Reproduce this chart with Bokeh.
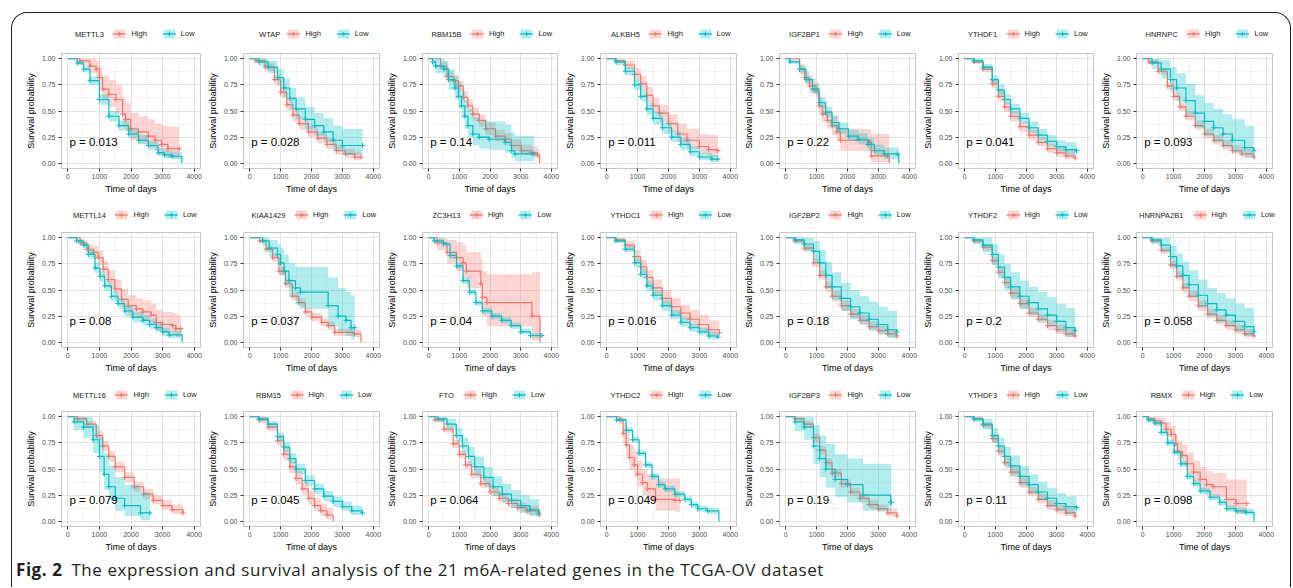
from bokeh.plotting import figure
from bokeh.layouts import row, column
from bokeh.models import (Legend, LegendItem, Div, Range1d, FixedTicker, Label,
                          PrintfTickFormatter)
from bokeh.embed import file_html
from bokeh.resources import INLINE

HIGH_COLOR = "#F8766D"
LOW_COLOR = "#00BFC4"
FONT = "Liberation Sans"

X_TICKS = [0, 1000, 2000, 3000, 4000]
X_MINOR = [500, 1500, 2500, 3500]
Y_TICKS = [0.0, 0.25, 0.5, 0.75, 1.0]
Y_MINOR = [0.125, 0.375, 0.625, 0.875]

GENES = ["METTL3", "WTAP", "RBM15B", "ALKBH5", "IGF2BP1", "YTHDF1", "HNRNPC",
         "METTL14", "KIAA1429", "ZC3H13", "YTHDC1", "IGF2BP2", "YTHDF2", "HNRNPA2B1",
         "METTL16", "RBM15", "FTO", "YTHDC2", "IGF2BP3", "YTHDF3", "RBMX"]
P_VALUES = ["0.013", "0.028", "0.14", "0.011", "0.22", "0.041", "0.093",
            "0.08", "0.037", "0.04", "0.016", "0.18", "0.2", "0.058",
            "0.079", "0.045", "0.064", "0.049", "0.19", "0.11", "0.098"]

# Kaplan-Meier estimates: (days, survival, lower CI, upper CI)
METTL3_HIGH = [(0, 1, 1, 1), (380, 0.98, 0.94, 1.0), (700, 0.93, 0.86, 1.0), (900, 0.90, 0.82, 0.98),
               (1000, 0.82, 0.72, 0.93), (1100, 0.71, 0.60, 0.84), (1300, 0.66, 0.54, 0.80),
               (1520, 0.61, 0.48, 0.75), (1730, 0.47, 0.35, 0.63), (1830, 0.42, 0.30, 0.58),
               (1990, 0.33, 0.22, 0.48), (2240, 0.30, 0.19, 0.45), (2550, 0.26, 0.15, 0.42),
               (2760, 0.22, 0.12, 0.38), (2970, 0.18, 0.09, 0.36), (3170, 0.14, 0.05, 0.35),
               (3530, 0.14, 0.05, 0.35)]
METTL3_LOW = [(0, 1, 1, 1), (300, 0.96, 0.94, 0.98), (500, 0.90, 0.87, 0.93), (700, 0.79, 0.75, 0.83),
              (1000, 0.61, 0.56, 0.66), (1300, 0.45, 0.40, 0.50), (1620, 0.36, 0.31, 0.41),
              (1930, 0.28, 0.24, 0.33), (2240, 0.22, 0.18, 0.27), (2550, 0.17, 0.13, 0.21),
              (2860, 0.10, 0.07, 0.14), (3060, 0.08, 0.05, 0.12), (3300, 0.067, 0.04, 0.11),
              (3610, 0, 0, 0)]

WTAP_HIGH = [(0, 1, 1, 1), (200, 0.98, 0.96, 1), (500, 0.92, 0.88, 0.96), (800, 0.80, 0.75, 0.85),
             (1000, 0.68, 0.63, 0.74), (1200, 0.56, 0.50, 0.62), (1400, 0.46, 0.40, 0.52),
             (1600, 0.38, 0.32, 0.44), (1900, 0.30, 0.25, 0.36), (2200, 0.24, 0.19, 0.30),
             (2500, 0.18, 0.14, 0.24), (2800, 0.12, 0.08, 0.17), (3100, 0.09, 0.05, 0.14),
             (3400, 0.06, 0.03, 0.11), (3600, 0.06, 0.03, 0.11)]
WTAP_LOW = [(0, 1, 1, 1), (300, 0.97, 0.93, 1), (600, 0.92, 0.86, 0.98), (900, 0.82, 0.74, 0.90),
            (1100, 0.72, 0.63, 0.81), (1300, 0.62, 0.52, 0.72), (1500, 0.52, 0.42, 0.63),
            (1800, 0.42, 0.32, 0.54), (2100, 0.36, 0.26, 0.48), (2400, 0.30, 0.20, 0.43),
            (2700, 0.22, 0.12, 0.36), (3000, 0.17, 0.08, 0.33), (3650, 0.17, 0.08, 0.33)]

RBM15B_HIGH = [(0, 1, 1, 1), (390, 0.93, 0.89, 0.97), (600, 0.83, 0.78, 0.88), (810, 0.79, 0.74, 0.84),
               (970, 0.74, 0.69, 0.79), (1130, 0.63, 0.58, 0.69), (1280, 0.55, 0.49, 0.61),
               (1440, 0.47, 0.41, 0.53), (1650, 0.41, 0.35, 0.47), (1860, 0.33, 0.27, 0.39),
               (2180, 0.26, 0.21, 0.32), (2490, 0.23, 0.18, 0.29), (2700, 0.17, 0.12, 0.23),
               (3020, 0.12, 0.08, 0.18), (3340, 0.10, 0.06, 0.16), (3550, 0.08, 0.04, 0.14),
               (3620, 0, 0, 0)]
RBM15B_LOW = [(0, 1, 1, 1), (130, 0.97, 0.92, 1), (230, 0.93, 0.86, 1), (500, 0.90, 0.82, 0.98),
              (650, 0.80, 0.70, 0.90), (860, 0.72, 0.61, 0.84), (970, 0.64, 0.53, 0.77),
              (1070, 0.55, 0.43, 0.69), (1180, 0.45, 0.33, 0.60), (1280, 0.36, 0.25, 0.52),
              (1440, 0.28, 0.17, 0.44), (1650, 0.25, 0.14, 0.41), (1970, 0.23, 0.13, 0.40),
              (2490, 0.20, 0.10, 0.37), (2700, 0.12, 0.05, 0.30), (2810, 0.09, 0.02, 0.26),
              (3440, 0.09, 0.02, 0.26)]

ALKBH5_HIGH = [(0, 1, 1, 1), (300, 0.98, 0.96, 1), (600, 0.94, 0.90, 0.98), (900, 0.85, 0.80, 0.91),
               (1100, 0.76, 0.70, 0.83), (1300, 0.65, 0.58, 0.73), (1500, 0.55, 0.48, 0.63),
               (1700, 0.48, 0.40, 0.56), (2000, 0.38, 0.30, 0.47), (2300, 0.28, 0.20, 0.38),
               (2600, 0.22, 0.14, 0.33), (3000, 0.16, 0.09, 0.28), (3300, 0.13, 0.06, 0.27),
               (3600, 0.12, 0.05, 0.26)]
ALKBH5_LOW = [(0, 1, 1, 1), (300, 0.97, 0.94, 0.99), (600, 0.88, 0.84, 0.92), (900, 0.75, 0.70, 0.80),
              (1100, 0.64, 0.59, 0.70), (1300, 0.52, 0.46, 0.58), (1500, 0.43, 0.37, 0.49),
              (1800, 0.34, 0.28, 0.40), (2100, 0.25, 0.20, 0.31), (2400, 0.18, 0.13, 0.24),
              (2700, 0.11, 0.07, 0.16), (3000, 0.06, 0.03, 0.10), (3400, 0.04, 0.01, 0.08),
              (3600, 0.04, 0.01, 0.08)]

IGF2BP1_HIGH = [(0, 1, 1, 1), (450, 0.90, 0.85, 0.95), (610, 0.82, 0.76, 0.88), (770, 0.74, 0.67, 0.81),
                (980, 0.69, 0.62, 0.77), (1080, 0.55, 0.47, 0.64), (1190, 0.47, 0.39, 0.56),
                (1350, 0.41, 0.33, 0.50), (1500, 0.36, 0.27, 0.46), (1660, 0.30, 0.21, 0.40),
                (1770, 0.22, 0.12, 0.33), (2720, 0.20, 0.10, 0.32), (2770, 0.07, 0.01, 0.28),
                (3290, 0.07, 0.01, 0.28), (3350, 0, 0, 0)]
IGF2BP1_LOW = [(0, 1, 1, 1), (137, 0.97, 0.95, 0.99), (450, 0.90, 0.87, 0.93), (660, 0.80, 0.76, 0.84),
               (870, 0.71, 0.66, 0.76), (1080, 0.58, 0.53, 0.63), (1290, 0.49, 0.44, 0.54),
               (1500, 0.39, 0.34, 0.45), (1720, 0.33, 0.28, 0.39), (2030, 0.26, 0.21, 0.32),
               (2350, 0.23, 0.18, 0.29), (2660, 0.18, 0.13, 0.24), (2870, 0.12, 0.08, 0.18),
               (3190, 0.09, 0.04, 0.15), (3610, 0.09, 0.04, 0.15), (3660, 0, 0, 0)]

YTHDF1_HIGH = [(0, 1, 1, 1), (300, 0.97, 0.95, 0.99), (600, 0.90, 0.87, 0.93), (900, 0.76, 0.72, 0.80),
               (1100, 0.64, 0.59, 0.69), (1300, 0.54, 0.49, 0.59), (1500, 0.45, 0.40, 0.50),
               (1800, 0.35, 0.30, 0.40), (2100, 0.27, 0.22, 0.32), (2400, 0.20, 0.16, 0.25),
               (2700, 0.14, 0.10, 0.19), (3000, 0.10, 0.06, 0.15), (3300, 0.07, 0.04, 0.12),
               (3600, 0.05, 0.02, 0.10)]
YTHDF1_LOW = [(0, 1, 1, 1), (300, 0.98, 0.96, 1), (600, 0.92, 0.89, 0.95), (900, 0.80, 0.76, 0.84),
              (1100, 0.70, 0.65, 0.75), (1300, 0.61, 0.56, 0.66), (1500, 0.52, 0.47, 0.57),
              (1800, 0.43, 0.38, 0.48), (2100, 0.34, 0.29, 0.40), (2400, 0.27, 0.22, 0.33),
              (2700, 0.21, 0.16, 0.27), (3000, 0.16, 0.11, 0.22), (3300, 0.13, 0.08, 0.20),
              (3650, 0.12, 0.07, 0.19)]

HNRNPC_HIGH = [(0, 1, 1, 1), (200, 0.97, 0.95, 0.99), (500, 0.88, 0.85, 0.91), (800, 0.74, 0.70, 0.78),
               (1000, 0.64, 0.60, 0.68), (1200, 0.54, 0.50, 0.59), (1400, 0.45, 0.41, 0.50),
               (1700, 0.36, 0.32, 0.41), (2000, 0.28, 0.24, 0.33), (2300, 0.22, 0.18, 0.27),
               (2600, 0.17, 0.13, 0.22), (2900, 0.12, 0.09, 0.17), (3200, 0.09, 0.06, 0.14),
               (3600, 0.06, 0.03, 0.11)]
HNRNPC_LOW = [(0, 1, 1, 1), (300, 0.96, 0.90, 1), (600, 0.90, 0.81, 0.99), (900, 0.80, 0.68, 0.92),
              (1100, 0.72, 0.59, 0.86), (1400, 0.60, 0.46, 0.76), (1700, 0.48, 0.34, 0.65),
              (2000, 0.40, 0.26, 0.58), (2300, 0.34, 0.20, 0.52), (2600, 0.28, 0.15, 0.47),
              (2900, 0.22, 0.10, 0.42), (3300, 0.15, 0.05, 0.36), (3600, 0.12, 0.03, 0.33)]

METTL14_HIGH = [(0, 1, 1, 1), (390, 0.95, 0.92, 0.98), (600, 0.89, 0.84, 0.94), (810, 0.86, 0.80, 0.92),
                (960, 0.81, 0.74, 0.88), (1120, 0.70, 0.62, 0.78), (1280, 0.60, 0.52, 0.69),
                (1490, 0.51, 0.42, 0.60), (1700, 0.41, 0.32, 0.51), (1910, 0.35, 0.26, 0.45),
                (2170, 0.32, 0.23, 0.42), (2380, 0.29, 0.20, 0.40), (2640, 0.26, 0.17, 0.37),
                (2800, 0.19, 0.11, 0.31), (3000, 0.17, 0.09, 0.29), (3320, 0.16, 0.08, 0.28),
                (3420, 0.13, 0.05, 0.26), (3580, 0.13, 0.05, 0.26)]
METTL14_LOW = [(0, 1, 1, 1), (280, 0.97, 0.95, 0.99), (490, 0.93, 0.90, 0.96), (650, 0.84, 0.80, 0.88),
               (860, 0.71, 0.66, 0.76), (1020, 0.63, 0.58, 0.68), (1170, 0.54, 0.49, 0.59),
               (1380, 0.44, 0.39, 0.49), (1590, 0.37, 0.32, 0.42), (1800, 0.30, 0.25, 0.35),
               (2060, 0.24, 0.19, 0.29), (2380, 0.21, 0.16, 0.26), (2590, 0.17, 0.13, 0.22),
               (2800, 0.14, 0.10, 0.19), (3000, 0.10, 0.06, 0.14), (3210, 0.07, 0.04, 0.11),
               (3620, 0, 0, 0)]

KIAA1429_HIGH = [(0, 1, 1, 1), (320, 0.97, 0.95, 0.99), (530, 0.89, 0.86, 0.92), (740, 0.81, 0.77, 0.85),
                 (950, 0.68, 0.64, 0.72), (1160, 0.56, 0.52, 0.60), (1380, 0.44, 0.40, 0.48),
                 (1590, 0.38, 0.34, 0.42), (1800, 0.29, 0.25, 0.33), (2010, 0.24, 0.20, 0.28),
                 (2330, 0.19, 0.15, 0.23), (2540, 0.16, 0.12, 0.20), (2750, 0.095, 0.06, 0.13),
                 (3390, 0.08, 0.05, 0.12), (3600, 0, 0, 0)]
KIAA1429_LOW = [(0, 1, 1, 1), (420, 0.97, 0.92, 1), (630, 0.90, 0.82, 0.98), (900, 0.84, 0.74, 0.94),
                (1000, 0.76, 0.64, 0.90), (1110, 0.68, 0.55, 0.84), (1270, 0.59, 0.44, 0.76),
                (1480, 0.52, 0.36, 0.72), (1640, 0.48, 0.32, 0.72), (2540, 0.35, 0.15, 0.62),
                (2860, 0.25, 0.10, 0.52), (3120, 0.21, 0.06, 0.48), (3280, 0.14, 0.03, 0.45),
                (3400, 0.14, 0.03, 0.45)]

ZC3H13_HIGH = [(0, 1, 1, 1), (280, 0.95, 0.88, 1), (600, 0.86, 0.75, 0.98), (910, 0.81, 0.68, 0.96),
               (1120, 0.76, 0.62, 0.93), (1230, 0.68, 0.52, 0.86), (1700, 0.56, 0.38, 0.80),
               (1750, 0.43, 0.25, 0.68), (1900, 0.38, 0.15, 0.65), (3370, 0.25, 0.02, 0.67),
               (3630, 0, 0, 0)]
ZC3H13_LOW = [(0, 1, 1, 1), (180, 0.97, 0.95, 0.99), (490, 0.94, 0.92, 0.96), (700, 0.83, 0.80, 0.86),
              (910, 0.73, 0.70, 0.76), (1120, 0.59, 0.56, 0.62), (1330, 0.48, 0.45, 0.51),
              (1540, 0.38, 0.35, 0.41), (1750, 0.30, 0.27, 0.33), (2060, 0.25, 0.22, 0.28),
              (2380, 0.21, 0.18, 0.24), (2690, 0.16, 0.13, 0.19), (3000, 0.10, 0.08, 0.13),
              (3320, 0.065, 0.045, 0.09), (3690, 0.065, 0.045, 0.09)]

YTHDC1_HIGH = [(0, 1, 1, 1), (300, 0.98, 0.96, 1), (600, 0.93, 0.89, 0.97), (900, 0.82, 0.77, 0.88),
               (1100, 0.72, 0.66, 0.79), (1300, 0.62, 0.55, 0.69), (1500, 0.52, 0.45, 0.60),
               (1800, 0.42, 0.35, 0.50), (2100, 0.34, 0.27, 0.42), (2400, 0.28, 0.21, 0.36),
               (2700, 0.22, 0.15, 0.31), (3000, 0.17, 0.11, 0.26), (3300, 0.12, 0.06, 0.21),
               (3650, 0.09, 0.04, 0.18)]
YTHDC1_LOW = [(0, 1, 1, 1), (300, 0.97, 0.95, 0.99), (600, 0.89, 0.86, 0.92), (900, 0.76, 0.72, 0.80),
              (1100, 0.65, 0.61, 0.70), (1300, 0.54, 0.49, 0.59), (1500, 0.45, 0.40, 0.50),
              (1800, 0.35, 0.30, 0.40), (2100, 0.26, 0.22, 0.31), (2400, 0.19, 0.15, 0.24),
              (2700, 0.14, 0.10, 0.18), (3000, 0.10, 0.07, 0.14), (3300, 0.06, 0.03, 0.10),
              (3600, 0.05, 0.02, 0.09)]

IGF2BP2_HIGH = [(0, 1, 1, 1), (300, 0.97, 0.95, 0.99), (600, 0.90, 0.87, 0.93), (900, 0.76, 0.72, 0.80),
                (1100, 0.64, 0.60, 0.69), (1300, 0.53, 0.48, 0.58), (1500, 0.44, 0.39, 0.49),
                (1800, 0.35, 0.30, 0.40), (2100, 0.27, 0.23, 0.32), (2400, 0.21, 0.17, 0.26),
                (2700, 0.15, 0.11, 0.20), (3000, 0.11, 0.07, 0.16), (3300, 0.08, 0.05, 0.13),
                (3600, 0.06, 0.03, 0.11)]
IGF2BP2_LOW = [(0, 1, 1, 1), (300, 0.98, 0.94, 1), (600, 0.94, 0.87, 1), (900, 0.87, 0.77, 0.97),
               (1100, 0.76, 0.65, 0.88), (1300, 0.64, 0.52, 0.77), (1500, 0.53, 0.41, 0.67),
               (1800, 0.42, 0.30, 0.57), (2100, 0.34, 0.22, 0.50), (2400, 0.28, 0.17, 0.44),
               (2700, 0.22, 0.12, 0.39), (3000, 0.17, 0.08, 0.34), (3300, 0.12, 0.04, 0.30),
               (3600, 0.10, 0.02, 0.28)]

YTHDF2_HIGH = [(0, 1, 1, 1), (300, 0.97, 0.95, 0.99), (600, 0.91, 0.88, 0.94), (900, 0.78, 0.74, 0.82),
               (1100, 0.67, 0.63, 0.72), (1300, 0.57, 0.52, 0.62), (1500, 0.47, 0.42, 0.52),
               (1800, 0.37, 0.32, 0.42), (2100, 0.28, 0.24, 0.33), (2400, 0.22, 0.18, 0.27),
               (2700, 0.16, 0.12, 0.21), (3000, 0.12, 0.08, 0.17), (3300, 0.08, 0.05, 0.13),
               (3600, 0.06, 0.03, 0.11)]
YTHDF2_LOW = [(0, 1, 1, 1), (300, 0.98, 0.94, 1), (600, 0.93, 0.86, 1), (900, 0.84, 0.74, 0.94),
              (1100, 0.72, 0.61, 0.84), (1300, 0.62, 0.50, 0.75), (1500, 0.53, 0.41, 0.67),
              (1800, 0.44, 0.32, 0.59), (2100, 0.38, 0.26, 0.53), (2400, 0.32, 0.20, 0.48),
              (2700, 0.26, 0.15, 0.43), (3000, 0.20, 0.10, 0.37), (3300, 0.14, 0.05, 0.33),
              (3600, 0.11, 0.03, 0.30)]

HNRNPA2B1_HIGH = [(0, 1, 1, 1), (300, 0.97, 0.95, 0.99), (600, 0.88, 0.85, 0.91), (900, 0.74, 0.70, 0.78),
                  (1100, 0.63, 0.59, 0.68), (1300, 0.52, 0.47, 0.57), (1500, 0.44, 0.39, 0.49),
                  (1800, 0.35, 0.30, 0.40), (2100, 0.27, 0.23, 0.32), (2400, 0.21, 0.17, 0.26),
                  (2700, 0.16, 0.12, 0.21), (3000, 0.12, 0.08, 0.17), (3300, 0.08, 0.05, 0.13),
                  (3600, 0.06, 0.03, 0.11)]
HNRNPA2B1_LOW = [(0, 1, 1, 1), (300, 0.98, 0.94, 1), (600, 0.93, 0.86, 1), (900, 0.82, 0.72, 0.92),
                 (1100, 0.73, 0.62, 0.85), (1300, 0.64, 0.52, 0.77), (1500, 0.55, 0.43, 0.69),
                 (1800, 0.45, 0.33, 0.60), (2100, 0.37, 0.25, 0.52), (2400, 0.31, 0.19, 0.47),
                 (2700, 0.26, 0.15, 0.42), (3000, 0.20, 0.10, 0.37), (3300, 0.15, 0.06, 0.33),
                 (3600, 0.10, 0.03, 0.29)]

METTL16_HIGH = [(0, 1, 1, 1), (300, 0.98, 0.96, 1), (600, 0.93, 0.90, 0.96), (900, 0.82, 0.78, 0.86),
                (1100, 0.72, 0.67, 0.77), (1300, 0.62, 0.57, 0.67), (1500, 0.52, 0.47, 0.57),
                (1800, 0.42, 0.37, 0.47), (2100, 0.33, 0.28, 0.38), (2400, 0.26, 0.21, 0.31),
                (2700, 0.20, 0.16, 0.25), (3000, 0.15, 0.11, 0.20), (3300, 0.11, 0.07, 0.16),
                (3650, 0.08, 0.04, 0.14)]
METTL16_LOW = [(0, 1, 1, 1), (200, 0.95, 0.87, 1), (500, 0.90, 0.80, 1), (800, 0.78, 0.65, 0.92),
               (1000, 0.62, 0.47, 0.80), (1150, 0.45, 0.30, 0.65), (1300, 0.33, 0.19, 0.53),
               (1500, 0.22, 0.10, 0.42), (1800, 0.15, 0.05, 0.35), (2300, 0.08, 0.01, 0.28),
               (2600, 0.08, 0.01, 0.28)]

RBM15_HIGH = [(0, 1, 1, 1), (300, 0.97, 0.94, 1), (600, 0.90, 0.86, 0.94), (900, 0.77, 0.72, 0.82),
              (1100, 0.64, 0.58, 0.70), (1300, 0.52, 0.46, 0.58), (1500, 0.41, 0.35, 0.48),
              (1700, 0.31, 0.25, 0.38), (1900, 0.22, 0.16, 0.29), (2100, 0.15, 0.10, 0.22),
              (2300, 0.10, 0.05, 0.17), (2500, 0.06, 0.02, 0.13), (2700, 0, 0, 0)]
RBM15_LOW = [(0, 1, 1, 1), (300, 0.98, 0.96, 1), (600, 0.93, 0.90, 0.96), (900, 0.81, 0.77, 0.85),
             (1100, 0.71, 0.66, 0.76), (1300, 0.60, 0.55, 0.65), (1500, 0.50, 0.45, 0.55),
             (1800, 0.39, 0.34, 0.44), (2100, 0.31, 0.26, 0.36), (2400, 0.24, 0.19, 0.29),
             (2700, 0.19, 0.14, 0.24), (3000, 0.14, 0.10, 0.19), (3300, 0.10, 0.06, 0.15),
             (3650, 0.08, 0.04, 0.13)]

FTO_HIGH = [(0, 1, 1, 1), (200, 0.97, 0.95, 0.99), (500, 0.88, 0.85, 0.91), (800, 0.74, 0.70, 0.78),
            (1000, 0.64, 0.60, 0.68), (1200, 0.54, 0.50, 0.58), (1400, 0.45, 0.41, 0.50),
            (1700, 0.36, 0.32, 0.41), (2000, 0.28, 0.24, 0.33), (2300, 0.22, 0.18, 0.27),
            (2600, 0.17, 0.13, 0.22), (2900, 0.13, 0.09, 0.18), (3200, 0.10, 0.06, 0.15),
            (3600, 0.06, 0.03, 0.11)]
FTO_LOW = [(0, 1, 1, 1), (300, 0.98, 0.95, 1), (600, 0.93, 0.88, 0.98), (900, 0.82, 0.75, 0.89),
           (1100, 0.72, 0.64, 0.80), (1300, 0.62, 0.53, 0.71), (1500, 0.52, 0.43, 0.62),
           (1800, 0.42, 0.33, 0.52), (2100, 0.33, 0.24, 0.43), (2400, 0.26, 0.18, 0.36),
           (2700, 0.20, 0.13, 0.30), (3000, 0.15, 0.08, 0.25), (3300, 0.11, 0.05, 0.21),
           (3600, 0.08, 0.03, 0.18)]

YTHDC2_HIGH = [(0, 1, 1, 1), (420, 0.97, 0.93, 1), (530, 0.84, 0.75, 0.94), (630, 0.73, 0.62, 0.84),
               (740, 0.61, 0.49, 0.73), (890, 0.54, 0.42, 0.67), (1000, 0.45, 0.33, 0.58),
               (1160, 0.37, 0.25, 0.50), (1320, 0.31, 0.19, 0.45), (1580, 0.21, 0.10, 0.41),
               (2210, 0.20, 0.09, 0.41), (2370, 0.20, 0.09, 0.41)]
YTHDC2_LOW = [(0, 1, 1, 1), (320, 0.97, 0.95, 0.99), (630, 0.87, 0.84, 0.90), (840, 0.78, 0.75, 0.81),
              (1050, 0.65, 0.62, 0.68), (1260, 0.54, 0.51, 0.57), (1470, 0.43, 0.40, 0.46),
              (1680, 0.35, 0.32, 0.38), (1890, 0.31, 0.28, 0.34), (2210, 0.26, 0.23, 0.29),
              (2530, 0.21, 0.18, 0.24), (2740, 0.16, 0.13, 0.19), (2950, 0.12, 0.09, 0.15),
              (3260, 0.10, 0.07, 0.13), (3630, 0, 0, 0)]

IGF2BP3_HIGH = [(0, 1, 1, 1), (300, 0.98, 0.96, 1), (600, 0.93, 0.90, 0.96), (900, 0.80, 0.76, 0.84),
                (1100, 0.68, 0.64, 0.72), (1300, 0.56, 0.52, 0.60), (1500, 0.46, 0.42, 0.50),
                (1800, 0.36, 0.32, 0.40), (2100, 0.28, 0.24, 0.32), (2400, 0.22, 0.18, 0.26),
                (2700, 0.16, 0.12, 0.20), (3000, 0.12, 0.09, 0.16), (3300, 0.08, 0.05, 0.12),
                (3600, 0.05, 0.02, 0.09)]
IGF2BP3_LOW = [(0, 1, 1, 1), (300, 0.95, 0.86, 1), (600, 0.90, 0.78, 1), (900, 0.72, 0.55, 0.92),
               (1100, 0.60, 0.42, 0.82), (1300, 0.50, 0.32, 0.74), (1600, 0.40, 0.23, 0.64),
               (2000, 0.35, 0.18, 0.60), (2500, 0.25, 0.10, 0.55), (3400, 0.18, 0.05, 0.55),
               (3420, 0.18, 0.05, 0.55)]

YTHDF3_HIGH = [(0, 1, 1, 1), (300, 0.98, 0.96, 1), (600, 0.92, 0.89, 0.95), (900, 0.79, 0.75, 0.83),
               (1100, 0.67, 0.62, 0.72), (1300, 0.56, 0.51, 0.61), (1500, 0.47, 0.42, 0.52),
               (1800, 0.37, 0.32, 0.42), (2100, 0.28, 0.24, 0.33), (2400, 0.21, 0.17, 0.26),
               (2700, 0.15, 0.11, 0.20), (3000, 0.11, 0.07, 0.16), (3300, 0.08, 0.05, 0.13),
               (3600, 0.05, 0.02, 0.10)]
YTHDF3_LOW = [(0, 1, 1, 1), (300, 0.98, 0.95, 1), (600, 0.93, 0.88, 0.98), (900, 0.82, 0.75, 0.89),
              (1100, 0.72, 0.64, 0.80), (1300, 0.62, 0.53, 0.71), (1500, 0.53, 0.44, 0.63),
              (1800, 0.43, 0.34, 0.53), (2100, 0.35, 0.26, 0.45), (2400, 0.28, 0.20, 0.38),
              (2700, 0.22, 0.14, 0.32), (3000, 0.17, 0.10, 0.27), (3300, 0.14, 0.07, 0.24),
              (3650, 0.13, 0.06, 0.23)]

RBMX_HIGH = [(0, 1, 1, 1), (180, 0.98, 0.95, 1), (390, 0.96, 0.91, 1), (600, 0.94, 0.88, 0.99),
             (760, 0.88, 0.81, 0.95), (920, 0.83, 0.75, 0.91), (1070, 0.74, 0.65, 0.83),
             (1130, 0.67, 0.58, 0.77), (1280, 0.63, 0.54, 0.73), (1440, 0.55, 0.45, 0.66),
             (1650, 0.47, 0.37, 0.58), (1860, 0.40, 0.30, 0.52), (2070, 0.35, 0.25, 0.48),
             (2280, 0.33, 0.23, 0.46), (2710, 0.21, 0.11, 0.40), (3020, 0.17, 0.07, 0.40),
             (3370, 0.17, 0.07, 0.40)]
RBMX_LOW = [(0, 1, 1, 1), (180, 0.97, 0.95, 0.99), (390, 0.94, 0.92, 0.96), (600, 0.85, 0.82, 0.88),
            (810, 0.75, 0.72, 0.78), (1020, 0.66, 0.63, 0.69), (1230, 0.55, 0.52, 0.58),
            (1440, 0.43, 0.40, 0.46), (1650, 0.36, 0.33, 0.39), (1860, 0.29, 0.26, 0.32),
            (2180, 0.23, 0.20, 0.26), (2490, 0.18, 0.15, 0.21), (2710, 0.12, 0.09, 0.15),
            (3020, 0.10, 0.07, 0.13), (3340, 0.086, 0.06, 0.12), (3600, 0, 0, 0)]

CURVES = [
    (METTL3_HIGH, METTL3_LOW), (WTAP_HIGH, WTAP_LOW), (RBM15B_HIGH, RBM15B_LOW),
    (ALKBH5_HIGH, ALKBH5_LOW), (IGF2BP1_HIGH, IGF2BP1_LOW), (YTHDF1_HIGH, YTHDF1_LOW),
    (HNRNPC_HIGH, HNRNPC_LOW),
    (METTL14_HIGH, METTL14_LOW), (KIAA1429_HIGH, KIAA1429_LOW), (ZC3H13_HIGH, ZC3H13_LOW),
    (YTHDC1_HIGH, YTHDC1_LOW), (IGF2BP2_HIGH, IGF2BP2_LOW), (YTHDF2_HIGH, YTHDF2_LOW),
    (HNRNPA2B1_HIGH, HNRNPA2B1_LOW),
    (METTL16_HIGH, METTL16_LOW), (RBM15_HIGH, RBM15_LOW), (FTO_HIGH, FTO_LOW),
    (YTHDC2_HIGH, YTHDC2_LOW), (IGF2BP3_HIGH, IGF2BP3_LOW), (YTHDF3_HIGH, YTHDF3_LOW),
    (RBMX_HIGH, RBMX_LOW),
]

# panel geometry (pixels)
COL_WIDTHS = [192, 179, 178, 179, 179, 178, 181]
COL_LEFT = [49, 36, 35, 36, 36, 35, 36]
COL_RIGHT = [4, 4, 4, 4, 4, 4, 6]
KEY_HEIGHTS = [35, 31, 31]          # strip holding the gene name and High/Low keys
PLOT_TOP, FRAME_W, FRAME_H, PLOT_BOTTOM = 5, 139, 116, 27
KEY_MID = [14.5, 12.5, 11.2]        # key row centre, measured up from the strip bottom
KEY_TEXT = 7.5                      # key font size (px)
KEY_BLOCK = 82                      # width of the High/Low keys

# advance widths (1/1000 em) for sizing the gene name in the key row
CHAR_W = {"A": 667, "B": 667, "C": 722, "D": 722, "E": 667, "F": 611, "G": 778, "H": 722,
          "I": 278, "K": 667, "L": 556, "M": 833, "N": 722, "O": 778, "P": 667, "R": 722,
          "T": 611, "X": 667, "Y": 667, "Z": 611}


def text_width(s, size):
    return sum(CHAR_W.get(ch, 556) for ch in s) / 1000 * size


def band_steps(rows):
    xs, lo, hi = [], [], []
    for i in range(len(rows) - 1):
        t0, _, l0, h0 = rows[i]
        t1 = rows[i + 1][0]
        xs += [t0, t1]
        lo += [l0, l0]
        hi += [h0, h0]
    return xs, lo, hi


def draw_group(p, rows, color):
    xs, lo, hi = band_steps(rows)
    band = p.varea(x=xs, y1=lo, y2=hi, fill_color=color, fill_alpha=0.3)
    t = [r[0] for r in rows]
    s = [r[1] for r in rows]
    line = p.step(x=t, y=s, mode="after", line_color=color, line_width=1.2)
    ct = [r[0] for r in rows[1:] if r[1] > 0]
    cs = [r[1] for r in rows[1:] if r[1] > 0]
    marks = p.scatter(x=ct, y=cs, marker="cross", size=5, line_color=color, line_width=1)
    return [band, line, marks]


def make_key(gene, high, low, width, left, height, mid):
    # key strip: the same groups are attached to the legend, but the strip's ranges
    # lie outside the data so only the legend keys show
    k = figure(width=width, height=height, x_range=Range1d(-3, -2), y_range=Range1d(3, 4),
               x_axis_type=None, y_axis_type=None, output_backend="svg",
               toolbar_location=None, title=None, min_border=0)
    k.outline_line_color = None
    k.background_fill_color = None
    k.border_fill_color = None
    k.xgrid.visible = False
    k.ygrid.visible = False
    hi_r = draw_group(k, high, HIGH_COLOR)
    lo_r = draw_group(k, low, LOW_COLOR)
    gw = text_width(gene, KEY_TEXT)
    block = gw + 9 + KEY_BLOCK
    gx = left + FRAME_W / 2 + 4 - block / 2
    k.add_layout(Label(x=gx, y=mid, x_units="screen", y_units="screen", text=gene,
                       text_baseline="middle", text_font=FONT,
                       text_font_size=f"{KEY_TEXT}px", text_color="#1a1a1a"))
    k.add_layout(Legend(items=[LegendItem(label="High", renderers=hi_r),
                               LegendItem(label="Low", renderers=lo_r)],
                        orientation="horizontal", location=(gx + gw + 9, mid - 5.5),
                        label_text_font=FONT, label_text_font_size=f"{KEY_TEXT}px",
                        label_text_color="#1a1a1a",
                        glyph_width=14, glyph_height=11, label_height=11, label_width=10,
                        label_standoff=5, spacing=15, padding=0, margin=0,
                        border_line_color=None, background_fill_alpha=0))
    return k


def make_panel(pval, high, low, width, left, right):
    p = figure(width=width, height=PLOT_TOP + FRAME_H + PLOT_BOTTOM,
               x_range=Range1d(-200, 4200), y_range=Range1d(-0.05, 1.05),
               output_backend="svg", toolbar_location=None, title=None,
               min_border_left=left, min_border_right=right, min_border_top=PLOT_TOP,
               min_border_bottom=PLOT_BOTTOM)
    p.background_fill_color = "white"
    p.border_fill_color = None
    p.outline_line_color = "#c4c4c4"
    p.outline_line_width = 1

    p.xaxis.ticker = FixedTicker(ticks=X_TICKS, minor_ticks=X_MINOR)
    p.yaxis.ticker = FixedTicker(ticks=Y_TICKS, minor_ticks=Y_MINOR)
    p.yaxis.formatter = PrintfTickFormatter(format="%.2f")
    for g in (p.xgrid, p.ygrid):
        g.grid_line_color = "#e3e3e3"
        g.grid_line_width = 1
        g.minor_grid_line_color = "#f1f1f1"
        g.minor_grid_line_width = 0.7
    for ax in (p.xaxis, p.yaxis):
        ax.axis_line_color = None
        ax.major_tick_line_color = "#333333"
        ax.major_tick_out = 3
        ax.major_tick_in = 0
        ax.minor_tick_line_color = None
        ax.major_label_text_font = FONT
        ax.major_label_text_font_size = "7px"
        ax.major_label_text_color = "#4d4d4d"
        ax.axis_label_text_font = FONT
        ax.axis_label_text_font_size = "9px"
        ax.axis_label_text_font_style = "normal"
        ax.axis_label_text_color = "black"
    p.xaxis.axis_label = "Time of days"
    p.yaxis.axis_label = "Survival probability"
    p.xaxis.major_label_standoff = 1
    p.yaxis.major_label_standoff = 2
    p.xaxis.axis_label_standoff = 2
    p.yaxis.axis_label_standoff = 3

    draw_group(p, high, HIGH_COLOR)
    draw_group(p, low, LOW_COLOR)

    p.add_layout(Label(x=50, y=0.2, text="p = " + pval, text_baseline="middle",
                       text_font=FONT, text_font_size="11.5px", text_color="black"))
    return p


children = []
for r in range(3):
    keys, plots = [], []
    for c in range(7):
        n = r * 7 + c
        high, low = CURVES[n]
        keys.append(make_key(GENES[n], high, low, COL_WIDTHS[c], COL_LEFT[c],
                             KEY_HEIGHTS[r], KEY_MID[r]))
        plots.append(make_panel(P_VALUES[n], high, low,
                                COL_WIDTHS[c], COL_LEFT[c], COL_RIGHT[c]))
    children.append(row(keys, spacing=0))
    children.append(row(plots, spacing=0))

caption = Div(text='<b>Fig. 2</b>&ensp;The expression and survival analysis of the 21 '
                   'm6A-related genes in the TCGA-OV dataset',
              width=1278, height=33, margin=(0, 0, 0, 0),
              styles={"font-family": "Open Sans", "font-size": "17px", "color": "#231f20",
                      "letter-spacing": "0.55px", "padding-left": "4px", "padding-top": "4px"})

layout = column(children + [caption], spacing=0, margin=(12, 0, 0, 11),
                styles={"border-top": "1.5px solid #222", "border-left": "1.5px solid #222",
                        "border-right": "1.5px solid #222",
                        "border-radius": "16px 16px 0 0"})

open("out.html", "w").write(file_html(layout, INLINE))
